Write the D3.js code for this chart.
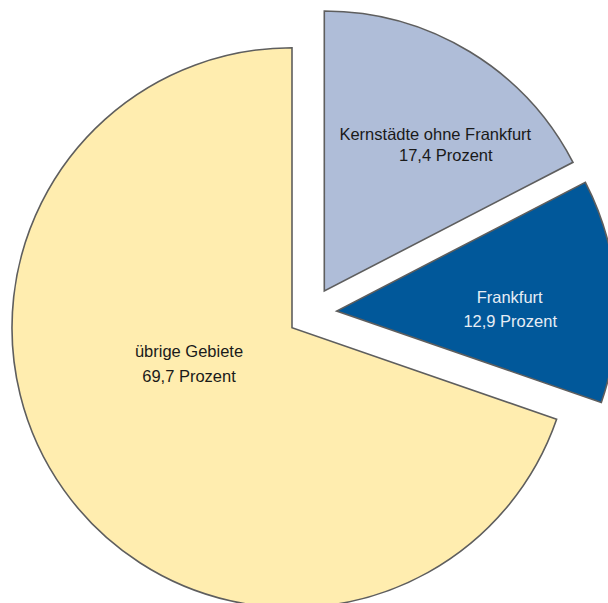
<!DOCTYPE html>
<html><head><meta charset="utf-8">
<script src="https://cdn.jsdelivr.net/npm/d3@7"></script>
<style>html,body{margin:0;padding:0;background:#fff;}svg{display:block;}</style>
</head><body>
<div id="chart"></div>
<script>
const categories = ["Kernstädte ohne Frankfurt", "Frankfurt", "übrige Gebiete"];
const values = [17.4, 12.9, 69.7];
const valueLabels = ["17,4 Prozent", "12,9 Prozent", "69,7 Prozent"];

const colors = ["#AFBDD8", "#01589A", "#FFEDAF"];
const textColors = ["#1a1a1a", "#E6EDF5", "#1a1a1a"];
// per-slice translation of the exploded slices (apex positions)
const apex = [[324.3, 291], [336.7, 311], [292, 327.7]];
// label line centres relative to apex: [dx1, dy1 baseline, dx2, dy2 baseline]
const labelPos = [[111, -151, 121.5, -130], [173, -7.7, 173.5, 15.7], [-103, 29.6, -103, 54]];

const W = 608, H = 603, R = 280;
const svg = d3.select("#chart").append("svg").attr("width", W).attr("height", H);

const pie = d3.pie().sort(null).value(d => d)(values);
const arc = d3.arc().innerRadius(0).outerRadius(R);

const g = svg.selectAll("g.slice").data(pie).enter().append("g")
  .attr("class", "slice")
  .attr("transform", (d, i) => `translate(${apex[i][0]},${apex[i][1]})`);

g.append("path").attr("d", arc)
  .attr("fill", (d, i) => colors[i])
  .attr("stroke", "#5E5E5E").attr("stroke-width", 1.6)
  .attr("stroke-linejoin", "miter");

g.append("text").attr("x", (d, i) => labelPos[i][0]).attr("y", (d, i) => labelPos[i][1])
  .attr("text-anchor", "middle").attr("font-family", "'Liberation Sans', Arial, sans-serif")
  .attr("font-size", 16.5).attr("fill", (d, i) => textColors[i])
  .text((d, i) => categories[i]);
g.append("text").attr("x", (d, i) => labelPos[i][2]).attr("y", (d, i) => labelPos[i][3])
  .attr("text-anchor", "middle").attr("font-family", "'Liberation Sans', Arial, sans-serif")
  .attr("font-size", 16.5).attr("fill", (d, i) => textColors[i])
  .text((d, i) => valueLabels[i]);
</script>
</body></html>
